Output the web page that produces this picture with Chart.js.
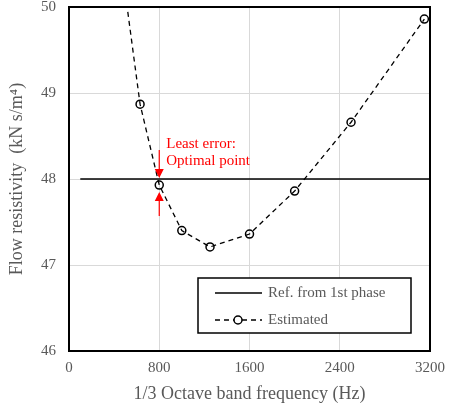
<!DOCTYPE html>
<html lang="en">
<head>
  <meta charset="UTF-8">
  <title>Flow resistivity</title>
  <script src="https://cdn.jsdelivr.net/npm/chart.js"></script>
  <style>
    body { margin: 0; background: #fff; }
  </style>
</head>
<body>
  <canvas id="chart" width="454" height="405"></canvas>

  <script>
    // 1/3 octave band centre frequencies and estimated flow resistivity
    const freqs = [500, 630, 800, 1000, 1250, 1600, 2000, 2500, 3150];
    const estimated = [50.15, 48.87, 47.93, 47.40, 47.21, 47.36, 47.86, 48.66, 49.86];

    // reference value from the first phase
    const refX = [100, 3200];
    const refY = [48, 48];

    const xTicks = [0, 800, 1600, 2400, 3200];
    const yTicks = [46, 47, 48, 49, 50];

    const optimalFreq = 800;
    const optimalValue = 47.93;

    const serif = "'Liberation Serif', 'Times New Roman', serif";
    const grey = '#595959';

    const frame = {
      id: 'frame',
      afterDraw(chart) {
        const { ctx, chartArea: a, scales } = chart;
        ctx.save();
        ctx.strokeStyle = '#000';
        ctx.lineWidth = 2;
        ctx.strokeRect(a.left, a.top, a.right - a.left, a.bottom - a.top);

        // annotation: arrows and text at the optimal point
        const px = scales.x.getPixelForValue(optimalFreq);
        const py = scales.y.getPixelForValue(optimalValue);
        ctx.strokeStyle = 'red';
        ctx.fillStyle = 'red';
        ctx.lineWidth = 1.2;
        ctx.beginPath();
        ctx.moveTo(px, py - 35); ctx.lineTo(px, py - 14);
        ctx.moveTo(px, py + 31); ctx.lineTo(px, py + 14);
        ctx.stroke();
        ctx.beginPath();
        ctx.moveTo(px - 4.5, py - 16); ctx.lineTo(px + 4.5, py - 16); ctx.lineTo(px, py - 7); ctx.closePath();
        ctx.moveTo(px - 4.5, py + 16); ctx.lineTo(px + 4.5, py + 16); ctx.lineTo(px, py + 7); ctx.closePath();
        ctx.fill();
        ctx.font = '15px ' + serif;
        ctx.textAlign = 'left';
        ctx.textBaseline = 'middle';
        ctx.fillText('Least error:', px + 7, py - 41);
        ctx.fillText('Optimal point', px + 7, py - 24);

        // legend box
        const lx = a.left + 129, ly = a.bottom - 73, lw = 213, lh = 55;
        ctx.fillStyle = '#fff';
        ctx.fillRect(lx, ly, lw, lh);
        ctx.strokeStyle = '#000';
        ctx.lineWidth = 1.5;
        ctx.strokeRect(lx, ly, lw, lh);
        ctx.lineWidth = 1.3;
        ctx.beginPath();
        ctx.moveTo(lx + 17, ly + 15); ctx.lineTo(lx + 64, ly + 15);
        ctx.stroke();
        ctx.setLineDash([5, 4]);
        ctx.beginPath();
        ctx.moveTo(lx + 17, ly + 42); ctx.lineTo(lx + 64, ly + 42);
        ctx.stroke();
        ctx.setLineDash([]);
        ctx.lineWidth = 1.5;
        ctx.beginPath();
        ctx.arc(lx + 40, ly + 42, 4, 0, Math.PI * 2);
        ctx.fillStyle = '#fff';
        ctx.fill();
        ctx.stroke();
        ctx.fillStyle = grey;
        ctx.font = '15px ' + serif;
        ctx.fillText(chart.data.datasets[0].label, lx + 70, ly + 15);
        ctx.fillText(chart.data.datasets[1].label, lx + 70, ly + 42);
        ctx.restore();
      }
    };

    new Chart(document.getElementById('chart'), {
      type: 'scatter',
      data: {
        datasets: [{
          label: 'Ref. from 1st phase',
          data: refX.map((x, i) => ({ x, y: refY[i] })),
          showLine: true,
          borderColor: '#000',
          borderWidth: 1.3,
          pointRadius: 0
        }, {
          label: 'Estimated',
          data: freqs.map((x, i) => ({ x, y: estimated[i] })),
          showLine: true,
          borderColor: '#000',
          borderWidth: 1.3,
          borderDash: [5, 4],
          pointRadius: 4,
          pointBorderWidth: 1.5,
          pointBorderColor: '#000',
          pointBackgroundColor: 'rgba(0,0,0,0)'
        }]
      },
      options: {
        responsive: false,
        animation: false,
        devicePixelRatio: 1,
        layout: { padding: { left: 0, right: 24, top: 7, bottom: 0 } },
        plugins: { legend: { display: false }, tooltip: { enabled: false } },
        scales: {
          x: {
            type: 'linear',
            min: 0, max: 3200,
            afterBuildTicks: (s) => { s.ticks = xTicks.map(v => ({ value: v })); },
            afterFit: (s) => { s.height = 54; s.paddingLeft = 0; s.paddingRight = 0; },
            grid: { color: '#d9d9d9', drawTicks: false },
            border: { display: false },
            ticks: { color: grey, font: { family: serif, size: 15 }, padding: 8, callback: (v) => String(v) },
            title: { display: true, text: '1/3 Octave band frequency (Hz)', color: grey, font: { family: serif, size: 18 }, padding: { top: 0, bottom: 0 } }
          },
          y: {
            min: 46, max: 50,
            afterBuildTicks: (s) => { s.ticks = yTicks.map(v => ({ value: v })); },
            afterFit: (s) => { s.width = 69; s.paddingTop = 0; s.paddingBottom = 0; },
            grid: { color: '#d9d9d9', drawTicks: false },
            border: { display: false },
            ticks: { color: grey, font: { family: serif, size: 15 }, padding: 13, callback: (v) => String(v) },
            title: { display: true, text: 'Flow resistivity  (kN s/m\u2074)', color: grey, font: { family: serif, size: 18 }, padding: { top: 6, bottom: 0 } }
          }
        }
      },
      plugins: [frame]
    });
  </script>
</body>
</html>
